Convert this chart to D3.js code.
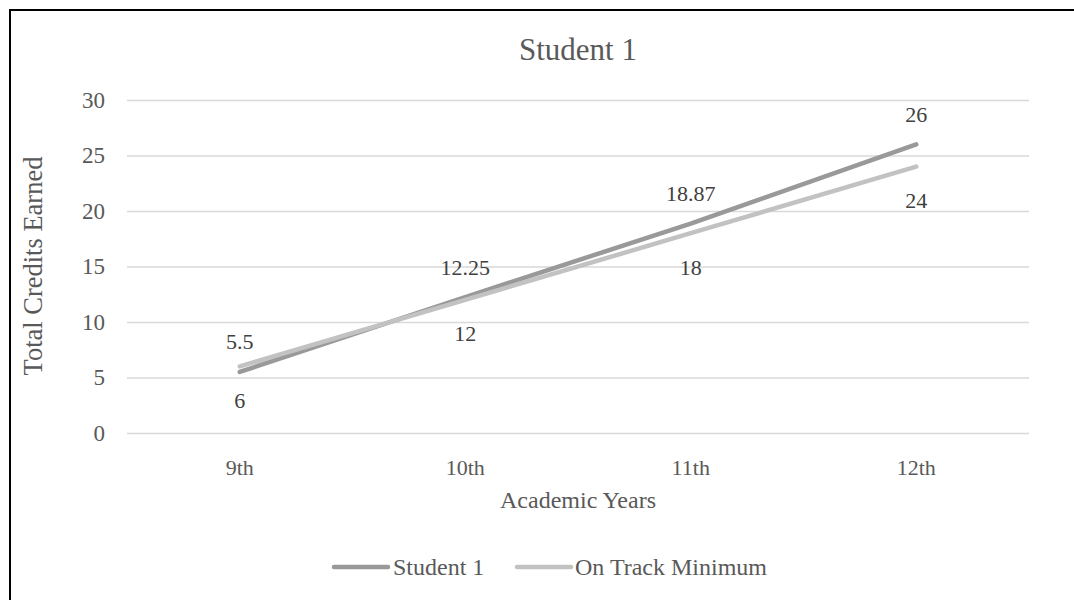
<!DOCTYPE html>
<html>
<head>
<meta charset="utf-8">
<script src="https://cdn.jsdelivr.net/npm/d3@7"></script>
<style>
  html, body { margin: 0; padding: 0; background: #fff; }
  svg { display: block; font-family: "Liberation Serif", "Times New Roman", serif; }
</style>
</head>
<body>
<svg id="chart" width="1074" height="600"></svg>
<script>
// Academic years and credit totals
const years = ["9th", "10th", "11th", "12th"];
const student1 = [5.5, 12.25, 18.87, 26];
const onTrack = [6, 12, 18, 24];
const yTicks = [0, 5, 10, 15, 20, 25, 30];

const series = [
  { name: "Student 1", values: student1, color: "#999999", labelPos: "above" },
  { name: "On Track Minimum", values: onTrack, color: "#C2C2C2", labelPos: "below" }
];

const svg = d3.select("#chart");
const W = 1074, H = 600;
const plot = { left: 127, right: 1029, top: 100, bottom: 433 };

// Frame lines at top and left
svg.append("line").attr("x1", 10).attr("x2", W).attr("y1", 10).attr("y2", 10)
  .attr("stroke", "#000").attr("stroke-width", 2);
svg.append("line").attr("x1", 10).attr("x2", 10).attr("y1", 9).attr("y2", H)
  .attr("stroke", "#000").attr("stroke-width", 2);

const x = d3.scaleBand().domain(years).range([plot.left, plot.right]);
const y = d3.scaleLinear().domain([0, 30]).range([plot.bottom, plot.top]);

// Horizontal gridlines
const yAxis = d3.axisLeft(y).tickValues(yTicks).tickSize(-(plot.right - plot.left)).tickPadding(22);
const gy = svg.append("g").attr("transform", `translate(${plot.left},0)`).call(yAxis);
gy.select(".domain").remove();
gy.selectAll(".tick line").attr("stroke", "#D9D9D9").attr("stroke-width", 1.3);
gy.selectAll(".tick text").attr("fill", "#595959").style("font-size", "23px")
  .style("font-family", "Liberation Serif, serif");

// Category labels
const xAxis = d3.axisBottom(x).tickSize(0).tickPadding(26);
const gx = svg.append("g").attr("transform", `translate(0,${plot.bottom})`).call(xAxis);
gx.select(".domain").remove();
gx.selectAll(".tick text").attr("fill", "#595959").style("font-size", "22px")
  .style("font-family", "Liberation Serif, serif");

// Title and axis titles
svg.append("text").attr("x", 578).attr("y", 60).attr("text-anchor", "middle")
  .attr("fill", "#595959").style("font-size", "31px").text("Student 1");
svg.append("text").attr("transform", "translate(42,266) rotate(-90)").attr("text-anchor", "middle")
  .attr("fill", "#595959").style("font-size", "26.5px").text("Total Credits Earned");
svg.append("text").attr("x", 578).attr("y", 508).attr("text-anchor", "middle")
  .attr("fill", "#595959").style("font-size", "24px").text("Academic Years");

// Lines
const line = d3.line().x((d, i) => x(years[i]) + x.bandwidth() / 2).y(d => y(d));
series.forEach(s => {
  svg.append("path").datum(s.values).attr("d", line)
    .attr("fill", "none").attr("stroke", s.color).attr("stroke-width", 4.5)
    .attr("stroke-linecap", "round").attr("stroke-linejoin", "round");
});

// Data labels
series.forEach(s => {
  svg.append("g").selectAll("text").data(s.values).join("text")
    .attr("x", (d, i) => x(years[i]) + x.bandwidth() / 2)
    .attr("y", d => y(d) + (s.labelPos === "above" ? -22.5 : 41.5))
    .attr("text-anchor", "middle").attr("fill", "#404040").style("font-size", "22px")
    .text(d => d);
});

// Legend
const legend = [
  { s: series[0], x1: 334, tx: 393 },
  { s: series[1], x1: 517, tx: 575 }
];
legend.forEach(l => {
  svg.append("line").attr("x1", l.x1).attr("x2", l.x1 + 54).attr("y1", 567).attr("y2", 567)
    .attr("stroke", l.s.color).attr("stroke-width", 4.5).attr("stroke-linecap", "round");
  svg.append("text").attr("x", l.tx).attr("y", 575).attr("fill", "#595959")
    .style("font-size", "24px").text(l.s.name);
});
</script>
</body>
</html>
